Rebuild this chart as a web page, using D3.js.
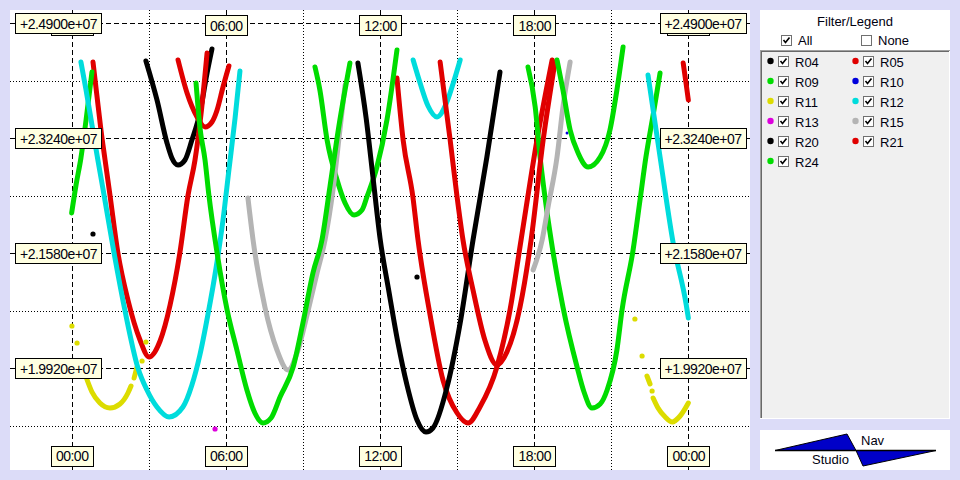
<!DOCTYPE html>
<html><head><meta charset="utf-8">
<script src="https://cdn.jsdelivr.net/npm/d3@7"></script>
<style>
html,body{margin:0;padding:0;background:#DCDCF8;overflow:hidden;}
svg{display:block;}
text{font-family:"Liberation Sans",Arial,sans-serif;font-size:13px;fill:#000010;}
text.axl{font-size:14px;letter-spacing:-0.5px;}
</style></head><body>
<svg id="chart" width="960" height="480"></svg>
<script>
// ---------- axis ticks / labels ----------
const hourTicksMajor = [0, 6, 12, 18, 24];
const hourTicksMinor = [3, 9, 15, 21];
const hourLabels = ["00:00", "06:00", "12:00", "18:00", "00:00"];
const valueTicksMajor = [19920000, 21580000, 23240000, 24900000];
const valueTicksMinor = [19090000, 20750000, 22410000, 24070000];
const valueLabels = ["+1.9920e+07", "+2.1580e+07", "+2.3240e+07", "+2.4900e+07"];

// ---------- series ----------
const seriesNames  = ["R04","R05","R09","R10","R11","R12","R13","R15","R20","R21","R24"];
const seriesColors = ["#000000","#E00000","#00DC00","#0000DC","#DCDC00","#00DCDC","#DC00DC","#B4B4B4","#000000","#E00000","#00DC00"];

// arcs: [hour, value]
const r04Arc1 = [[2.89,24355900],[3.32,23793000],[3.71,23172200],[3.90,22955700],[4.14,22854700],[4.41,22926900],[4.68,23215600],[4.99,23605300],[5.27,24182700],[5.46,24529000]];
const r04Dots = [[13.44,21238000]];

const r05Arc1 = [[0.83,24341500],[0.98,23865100],[1.14,23359900],[1.30,22926900],[1.49,22421600],[1.80,21584400],[2.19,20906000],[2.66,20328600],[3.01,20083200],[3.44,20314100],[3.83,20833800],[4.21,21584400],[4.53,22421600],[4.80,22926900],[5.03,23576400],[5.27,24471400]];
const r05Arc2 = [[12.66,24110500],[12.90,23215600],[13.28,22392800],[13.48,21772100],[13.95,20689400],[14.45,19751200],[15.00,19274800],[15.43,19130400],[15.89,19361400],[16.55,19938800],[17.06,20761600],[17.49,21772100],[18.11,23215600],[18.70,24370400]];
const r05Arc3 = [[23.80,24327000],[23.92,24009500],[24.00,23793000]];

const r09Arc1 = [[0.00,22161800],[0.17,22566000],[0.36,22955700],[0.56,23504300],[0.79,24197100]];
const r09Arc2 = [[9.47,24269300],[9.66,23937300],[9.94,23215600],[10.33,22638200],[10.64,22306100],[10.99,22132900],[11.30,22205100],[11.49,22392800],[11.88,22825800],[12.27,23504300],[12.66,24514700]];
const r09Arc3 = [[17.76,24269300],[18.04,23691900],[18.23,22970200],[18.42,22392800],[18.66,21772100],[19.12,20804900],[19.67,19938800],[19.94,19578000],[20.25,19347000],[20.57,19404700],[20.84,19606800],[21.22,20184200],[21.42,20761600],[21.85,21627700],[22.12,22349500],[22.35,22970200],[22.63,23576400],[22.90,24182700]];

const r10Dots = [[19.28,23316600]];

const r11Arc1 = [[0.56,19794500],[0.79,19578000],[1.10,19419100],[1.49,19347000],[1.88,19404700],[2.19,19563500],[2.31,19664500]];
const r11Arc2 = [[2.43,19780000],[2.54,19938800]];
const r11Arc3 = [[22.39,19808900],[22.51,19693400]];
const r11Arc4 = [[22.63,19491300],[22.82,19347000],[23.10,19217100],[23.37,19144900],[23.68,19231500],[24.00,19419100]];
const r11Dots = [[0.01,20530600],[0.21,20285200],[2.74,20025400],[2.89,20299700],[21.92,20631700],[22.20,20097600],[22.59,19592400]];

const r12Arc1 = [[0.36,24341500],[0.56,23937300],[0.79,23432100],[1.02,22926900],[1.26,22421600],[1.65,21584400],[2.07,20761600],[2.58,19924400],[2.93,19606800],[3.32,19361400],[3.79,19217100],[4.33,19361400],[4.68,19679000],[4.99,20112000],[5.30,20689400],[5.62,21367900],[5.89,22060800],[6.12,22782500],[6.36,23533100],[6.55,24211600]];
const r12Arc2 = [[13.29,24370400],[13.56,24038300],[13.87,23706300],[14.22,23547600],[14.57,23735200],[14.84,24023900],[15.12,24370400]];
const r12Arc3 = [[22.43,24153800],[22.90,22970200],[23.41,21728700],[23.92,20833800],[24.00,20646100]];

const r13Dots = [[5.58,19043800]];

const r15Arc1 = [[6.86,22378300],[7.06,21772100],[7.52,20804900],[7.99,20184200],[8.42,19895500],[8.81,20184200],[9.18,20720000],[9.55,21295700],[9.86,21772100],[10.17,22493800],[10.44,23359900],[10.64,24009500]];
const r15Arc2 = [[17.96,21339000],[18.31,21772100],[18.54,22248400],[18.89,22970200],[19.12,23691900],[19.40,24341500]];

const r20Dots = [[0.83,21858700]];
const r20Arc1 = [[11.14,24327000],[11.46,23533100],[11.73,22667000],[12.00,21800900],[12.35,21021400],[12.70,20285200],[13.05,19679000],[13.44,19173800],[13.79,19000500],[14.06,19058300],[14.61,19650100],[15.12,20574000],[15.62,21772100],[16.16,22970200],[16.67,24197100]];

const r21Arc1 = [[4.14,24370400],[4.49,23894000],[4.88,23547600],[5.19,23403200],[5.46,23475400],[5.66,23648600],[5.89,23980600],[6.12,24283700]];
const r21Arc2 = [[14.34,24341500],[14.73,23215600],[15.00,22392800],[15.23,21772100],[15.62,21050300],[16.08,20328600],[16.55,19967700],[16.94,20155300],[17.45,20804900],[17.88,21772100],[18.35,23215600],[18.81,24341500]];

const r24Arc1 = [[4.84,24038300],[4.99,23403200],[5.19,22926900],[5.34,22421600],[5.66,21584400],[6.05,20761600],[6.43,20184200],[6.82,19606800],[7.13,19274800],[7.45,19130400],[7.76,19202600],[8.11,19505800],[8.62,19938800],[9.00,20574000],[9.39,21295700],[9.74,21772100],[10.05,22537100],[10.42,23460900],[10.83,24327000]];
const r24Arc2 = [[18.89,24370400],[19.12,23937300],[19.40,23359900],[19.71,23027900],[20.10,22825800],[20.57,22970200],[20.95,23359900],[21.22,23937300],[21.46,24558000]];

const seriesArcs = {
  R04: [r04Arc1], R05: [r05Arc1, r05Arc2, r05Arc3], R09: [r09Arc1, r09Arc2, r09Arc3],
  R10: [], R11: [r11Arc1, r11Arc2, r11Arc3, r11Arc4], R12: [r12Arc1, r12Arc2, r12Arc3],
  R13: [], R15: [r15Arc1, r15Arc2], R20: [r20Arc1], R21: [r21Arc1, r21Arc2], R24: [r24Arc1, r24Arc2]
};
const seriesDots = {
  R04: r04Dots, R05: [], R09: [], R10: r10Dots, R11: r11Dots, R12: [], R13: r13Dots,
  R15: [], R20: r20Dots, R21: [], R24: []
};

// ---------- layout ----------
const svg = d3.select("#chart");
const plot = {left: 10, top: 10, right: 750, bottom: 470};
const x = d3.scaleLinear().domain([-2.4, 26.4]).range([plot.left, plot.right]);
const y = d3.scaleLinear().domain([18452000, 25092000]).range([plot.bottom, plot.top]);

svg.append("rect").attr("width", 960).attr("height", 480).attr("fill", "#DCDCF8");
svg.append("rect").attr("x", plot.left).attr("y", plot.top)
  .attr("width", plot.right - plot.left).attr("height", plot.bottom - plot.top).attr("fill", "#fff");

const grid = svg.append("g").attr("stroke", "#000").attr("stroke-width", 1).attr("fill", "none");
hourTicksMinor.forEach(h => grid.append("line").attr("x1", Math.round(x(h)) + 0.5).attr("x2", Math.round(x(h)) + 0.5)
  .attr("y1", plot.top).attr("y2", plot.bottom).attr("stroke-dasharray", "1,2"));
valueTicksMinor.forEach(v => grid.append("line").attr("y1", Math.round(y(v)) + 0.5).attr("y2", Math.round(y(v)) + 0.5)
  .attr("x1", plot.left).attr("x2", plot.right).attr("stroke-dasharray", "1,2"));
hourTicksMajor.forEach(h => grid.append("line").attr("x1", Math.round(x(h)) + 0.5).attr("x2", Math.round(x(h)) + 0.5)
  .attr("y1", plot.top).attr("y2", plot.bottom).attr("stroke-dasharray", "5,3"));
valueTicksMajor.forEach(v => grid.append("line").attr("y1", Math.round(y(v)) + 0.5).attr("y2", Math.round(y(v)) + 0.5)
  .attr("x1", plot.left).attr("x2", plot.right).attr("stroke-dasharray", "5,3"));

// ---------- curves ----------
const line = d3.line().x(d => x(d[0])).y(d => y(d[1])).curve(d3.curveMonotoneX);
const marks = svg.append("g");
seriesNames.forEach((name, i) => {
  const col = seriesColors[i];
  const g = marks.append("g");
  g.selectAll("path").data(seriesArcs[name]).join("path")
    .attr("d", line).attr("fill", "none").attr("stroke", col)
    .attr("stroke-width", 5).attr("stroke-linecap", "round").attr("stroke-linejoin", "round");
  g.selectAll("circle").data(seriesDots[name]).join("circle")
    .attr("cx", d => x(d[0])).attr("cy", d => y(d[1]))
    .attr("r", name === "R10" ? 1.5 : 2.6).attr("fill", col);
});

// ---------- labels ----------
function labelBox(cx, cy, w, txt) {
  const g = svg.append("g");
  g.append("rect").attr("x", Math.round(cx - w / 2) + 0.5).attr("y", Math.round(cy - 10) + 0.5)
    .attr("width", w).attr("height", 20).attr("fill", "#FFFFE1").attr("stroke", "#000");
  g.append("text").attr("class", "axl").attr("x", cx + 0.5).attr("y", cy + 5.5)
    .attr("text-anchor", "middle").text(txt);
}
hourTicksMajor.forEach((h, i) => labelBox(x(h), 25, 42, hourLabels[i]));
hourTicksMajor.forEach((h, i) => labelBox(x(h), 455.5, 42, hourLabels[i]));
valueTicksMajor.forEach((v, i) => labelBox(58, y(v), 86, valueLabels[i]));
valueTicksMajor.forEach((v, i) => labelBox(702.5, y(v), 86, valueLabels[i]));

// ---------- legend panel ----------
svg.append("rect").attr("x", 760).attr("y", 10).attr("width", 190).attr("height", 40).attr("fill", "#fff");
svg.append("rect").attr("x", 760).attr("y", 50).attr("width", 190).attr("height", 369).attr("fill", "#F0F0F0");
svg.append("line").attr("x1", 760).attr("x2", 950).attr("y1", 50.5).attr("y2", 50.5).attr("stroke", "#A0A0A0");
svg.append("line").attr("x1", 761).attr("x2", 950).attr("y1", 51.5).attr("y2", 51.5).attr("stroke", "#696969");
svg.append("line").attr("x1", 760.5).attr("x2", 760.5).attr("y1", 50).attr("y2", 419).attr("stroke", "#A0A0A0");
svg.append("line").attr("x1", 761.5).attr("x2", 761.5).attr("y1", 51).attr("y2", 418).attr("stroke", "#696969");
svg.append("line").attr("x1", 949.5).attr("x2", 949.5).attr("y1", 51).attr("y2", 419).attr("stroke", "#fff");
svg.append("line").attr("x1", 760).attr("x2", 950).attr("y1", 418.5).attr("y2", 418.5).attr("stroke", "#fff");

svg.append("text").attr("x", 855).attr("y", 25.5).attr("text-anchor", "middle").text("Filter/Legend");

function checkbox(cx, cy, checked) {
  const g = svg.append("g");
  g.append("rect").attr("x", cx + 0.5).attr("y", cy + 0.5).attr("width", 10).attr("height", 10)
    .attr("fill", "#fff").attr("stroke", "#707070");
  if (checked) g.append("path").attr("d", `M${cx + 2.5},${cy + 5} L${cx + 4.5},${cy + 7.5} L${cx + 8.5},${cy + 2.5}`)
    .attr("fill", "none").attr("stroke", "#000").attr("stroke-width", 1.6);
}
checkbox(781, 35, true);
svg.append("text").attr("x", 798).attr("y", 45).text("All");
checkbox(861, 35, false);
svg.append("text").attr("x", 878).attr("y", 45).text("None");

seriesNames.forEach((name, i) => {
  const col = i % 2, row = Math.floor(i / 2);
  const ox = col * 85, oy = row * 20;
  svg.append("circle").attr("cx", 770.5 + ox).attr("cy", 61 + oy).attr("r", 3.2).attr("fill", seriesColors[i]);
  checkbox(778 + ox, 56 + oy, true);
  svg.append("text").attr("x", 795 + ox).attr("y", 66.5 + oy).text(name);
});

// ---------- NavStudio logo ----------
svg.append("rect").attr("x", 760).attr("y", 430).attr("width", 190).attr("height", 40).attr("fill", "#fff");
svg.append("polygon").attr("points", "775,450.5 847,434 856,450.5").attr("fill", "#0000C8").attr("stroke", "#000");
svg.append("polygon").attr("points", "856,450.5 863,466 936,450.5").attr("fill", "#0000C8").attr("stroke", "#000");
svg.append("line").attr("x1", 775).attr("x2", 936).attr("y1", 450.5).attr("y2", 450.5).attr("stroke", "#000").attr("stroke-width", 1.5);
svg.append("text").attr("x", 861).attr("y", 445).text("Nav");
svg.append("text").attr("x", 812).attr("y", 464).text("Studio");
</script>
</body></html>
